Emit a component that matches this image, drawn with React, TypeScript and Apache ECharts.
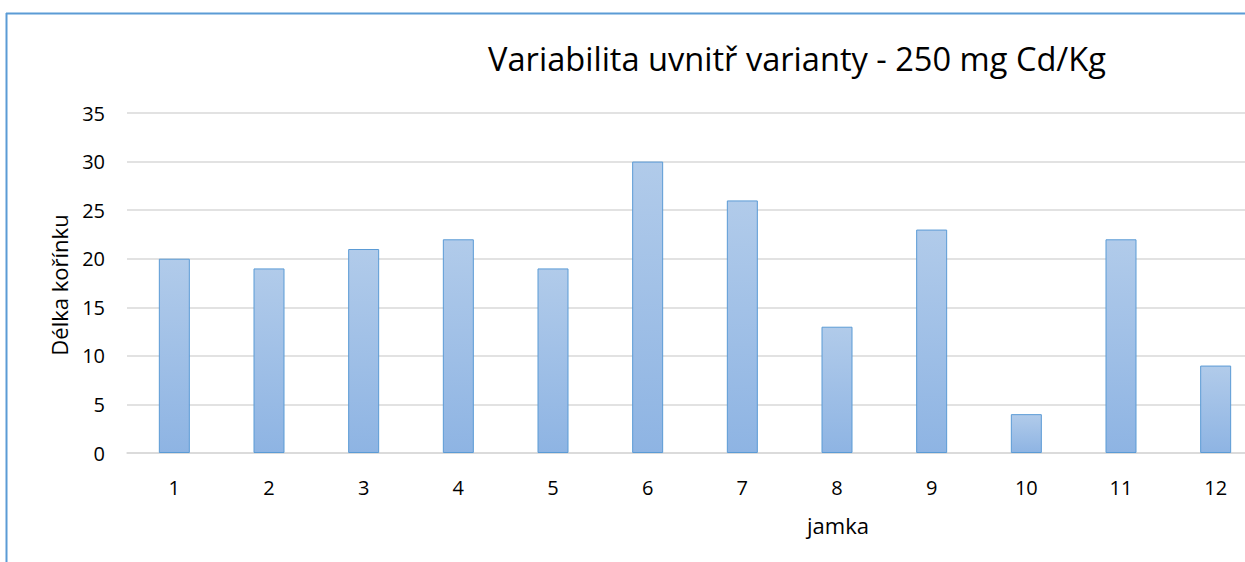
import React, { useEffect, useRef } from "react";
import * as echarts from "echarts";

const categories = ["1", "2", "3", "4", "5", "6", "7", "8", "9", "10", "11", "12"];
const values = [20, 19, 21, 22, 19, 30, 26, 13, 23, 4, 22, 9];
const titleText = "Variabilita uvnitř varianty - 250 mg Cd/Kg";
const xName = "jamka";
const yName = "Délka kořínku";

export default function App() {
  const ref = useRef<HTMLDivElement>(null);
  useEffect(() => {
    document.body.style.margin = "0";
    const chart = echarts.init(ref.current!, null, { renderer: "svg" });
    const font = "Open Sans, Liberation Sans, sans-serif";
    chart.setOption({
      animation: false,
      backgroundColor: "#ffffff",
      title: {
        text: titleText,
        left: 792,
        top: 37,
        textAlign: "center",
        textStyle: { fontFamily: font, fontSize: 32.6, fontWeight: "normal", color: "#000" },
      },
      grid: { left: 127, width: 1136, top: 113, bottom: 109 },
      xAxis: {
        type: "category",
        data: categories,
        axisLine: { lineStyle: { color: "#D9D9D9", width: 1.5 } },
        axisTick: { show: false },
        axisLabel: { fontFamily: font, fontSize: 20, color: "#000", margin: 24 },
      },
      yAxis: {
        type: "value",
        min: 0,
        max: 35,
        interval: 5,
        axisLine: { show: false },
        axisTick: { show: false },
        axisLabel: { fontFamily: font, fontSize: 20, color: "#000", margin: 22 },
        splitLine: { lineStyle: { color: "#D9D9D9", width: 1.5 } },
      },
      series: [
        {
          type: "bar",
          data: values,
          barWidth: 31,
          itemStyle: {
            color: new echarts.graphic.LinearGradient(0, 0, 0, 1, [
              { offset: 0, color: "#B1CBEA" },
              { offset: 1, color: "#8EB4E3" },
            ]),
            borderColor: "#5B9BD5",
            borderWidth: 1,
          },
        },
      ],
      graphic: [
        {
          type: "text",
          x: 838,
          y: 525,
          style: {
            text: xName,
            fontFamily: font,
            fontSize: 22,
            fill: "#000",
            align: "center",
            verticalAlign: "middle",
          },
        },
        {
          type: "text",
          x: 59,
          y: 285,
          rotation: Math.PI / 2,
          style: {
            text: yName,
            fontFamily: font,
            fontSize: 22,
            fill: "#000",
            align: "center",
            verticalAlign: "middle",
          },
        },
        {
          type: "line",
          shape: { x1: 6, y1: 13.5, x2: 1245, y2: 13.5 },
          style: { stroke: "#5B9BD5", lineWidth: 2 },
        },
        {
          type: "line",
          shape: { x1: 6.5, y1: 13, x2: 6.5, y2: 562 },
          style: { stroke: "#5B9BD5", lineWidth: 2 },
        },
      ],
    });
    return () => chart.dispose();
  }, []);
  return (
    <div style={{ width: 1245, height: 562, overflow: "hidden", position: "relative" }}>
      <div ref={ref} style={{ width: 1263, height: 562 }} />
    </div>
  );
}
